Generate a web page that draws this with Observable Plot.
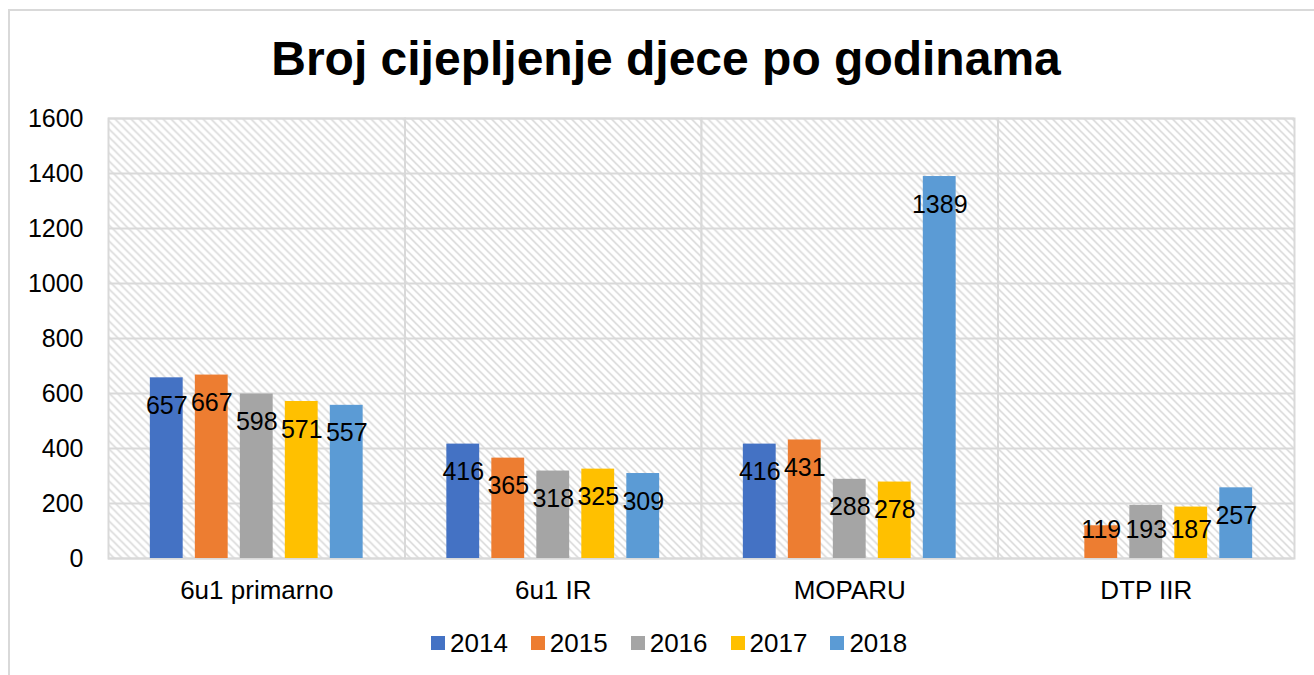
<!DOCTYPE html>
<html>
<head>
<meta charset="utf-8">
<script src="https://cdn.jsdelivr.net/npm/d3@7"></script>
<script src="https://cdn.jsdelivr.net/npm/@observablehq/plot@0.6"></script>
<style>
  html, body { margin: 0; padding: 0; background: #fff; }
  body { width: 1314px; height: 675px; position: relative; overflow: hidden; font-family: "Liberation Sans", Arial, sans-serif; }
  #border { position: absolute; left: 8px; top: 9px; right: -10px; bottom: -10px; border-left: 2px solid #d9d9d9; border-top: 2px solid #d9d9d9; }
  #title { position: absolute; left: 18px; width: 1296px; top: 35px; text-align: center; font-size: 48px; line-height: 48px; font-weight: bold; color: #000; }
  #chart { position: absolute; left: 0; top: 100px; }
  #legend { position: absolute; left: 431px; top: 630px; display: flex; align-items: center; font-size: 26px; line-height: 26px; color: #000; }
  .item { display: flex; align-items: center; margin-right: 23px; }
  .sw { width: 14px; height: 14px; margin-right: 5px; }
</style>
</head>
<body>
<div id="border"></div>
<div id="title">Broj cijepljenje djece po godinama</div>
<div id="chart"></div>
<div id="legend"></div>
<script>
const categories = ["6u1 primarno", "6u1 IR", "MOPARU", "DTP IIR"];
const years = ["2014", "2015", "2016", "2017", "2018"];
const colors = ["#4472c4", "#ed7d31", "#a5a5a5", "#ffc000", "#5b9bd5"];
const v2014 = [657, 416, 416, null];
const v2015 = [667, 365, 431, 119];
const v2016 = [598, 318, 288, 193];
const v2017 = [571, 325, 278, 187];
const v2018 = [557, 309, 1389, 257];
const yTicks = [0, 200, 400, 600, 800, 1000, 1200, 1400, 1600];

const series = [v2014, v2015, v2016, v2017, v2018];
const data = [];
categories.forEach((c, i) => {
  years.forEach((y, j) => {
    const v = series[j][i];
    if (v != null) data.push({cat: c, year: y, value: v});
  });
});

const svg = Plot.plot({
  width: 1314,
  height: 510,
  marginLeft: 108,
  marginRight: 20,
  marginTop: 18,
  marginBottom: 52,
  style: {fontFamily: "Liberation Sans, Arial, sans-serif", fontSize: "25px", background: "transparent", color: "#000"},
  fx: {domain: categories, padding: 0, label: null, tickSize: 0, tickPadding: 22, round: false},
  x: {domain: years, axis: null, paddingInner: 0.27, paddingOuter: 0.93, round: false},
  y: {domain: [0, 1600], ticks: yTicks, label: null, tickSize: 0, tickPadding: 25, tickFormat: d => String(d)},
  color: {domain: years, range: colors},
  marks: [
    Plot.frame({fill: "url(#hatch)", stroke: "#d9d9d9", strokeWidth: 2}),
    Plot.ruleY(yTicks, {stroke: "#d9d9d9", strokeWidth: 2}),
    Plot.barY(data, {fx: "cat", x: "year", y: "value", fill: "year"}),
    Plot.text(data, {fx: "cat", x: "year", y: d => Math.max(d.value - 102, 102), text: d => String(d.value), fontSize: 25, fill: "#000"})
  ]
});

const defs = d3.select(svg).insert("defs", ":first-child");
const pat = defs.append("pattern").attr("id", "hatch").attr("patternUnits", "userSpaceOnUse")
  .attr("width", 8).attr("height", 8);
pat.append("rect").attr("width", 8).attr("height", 8).attr("fill", "#fff");
pat.append("path").attr("d", "M-1,-1 L9,9 M-1,7 L1,9 M7,-1 L9,1").attr("stroke", "#d6d6d6").attr("stroke-width", 1.5);
d3.select(svg).selectAll("text").attr("fill", "#000");
d3.select(svg).selectAll('g[aria-label="fx-axis tick label"]').attr("font-size", 26);
d3.select(svg).selectAll('g[aria-label="fx-axis tick label"] text').attr("font-size", 26);
document.getElementById("chart").appendChild(svg);

const legend = document.getElementById("legend");
years.forEach((y, i) => {
  const it = document.createElement("div");
  it.className = "item";
  const sw = document.createElement("div");
  sw.className = "sw";
  sw.style.background = colors[i];
  const t = document.createElement("span");
  t.textContent = y;
  it.appendChild(sw);
  it.appendChild(t);
  legend.appendChild(it);
});
</script>
</body>
</html>
